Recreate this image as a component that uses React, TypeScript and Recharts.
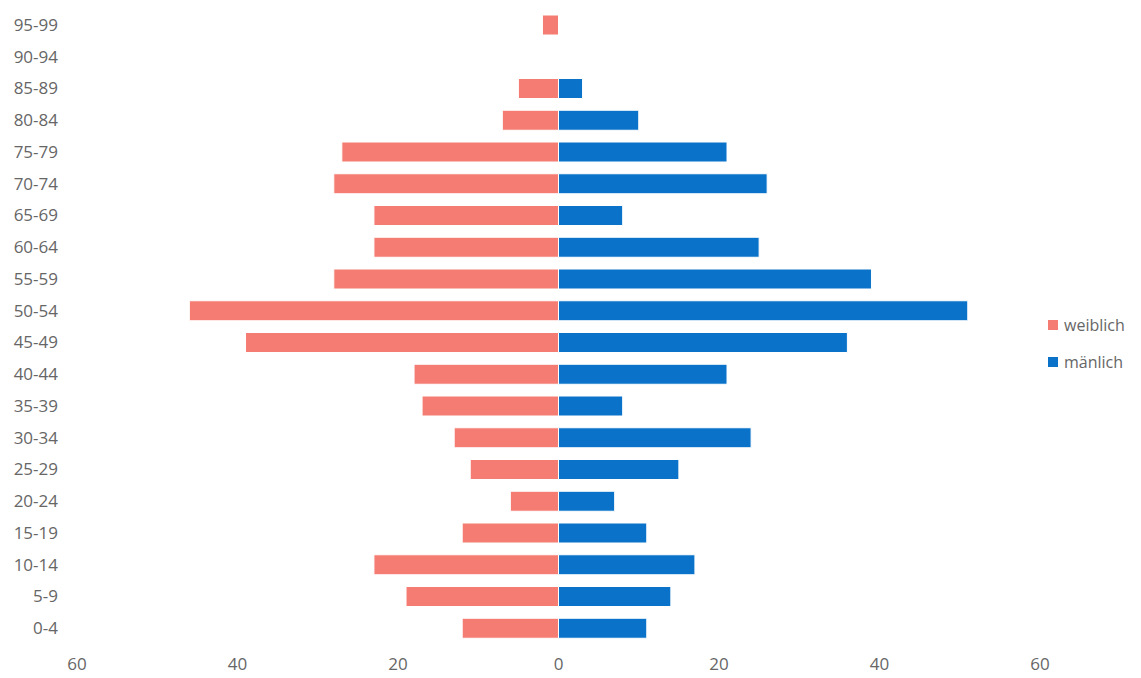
import React from "react";
import { BarChart, Bar, XAxis, YAxis, Legend } from "recharts";

const ageGroups = [
  "95-99", "90-94", "85-89", "80-84", "75-79", "70-74", "65-69", "60-64", "55-59", "50-54",
  "45-49", "40-44", "35-39", "30-34", "25-29", "20-24", "15-19", "10-14", "5-9", "0-4",
];
const weiblich = [2, 0, 5, 7, 27, 28, 23, 23, 28, 46, 39, 18, 17, 13, 11, 6, 12, 23, 19, 12];
const maenlich = [0, 0, 3, 10, 21, 26, 8, 25, 39, 51, 36, 21, 8, 24, 15, 7, 11, 17, 14, 11];
const xTicks = [-60, -40, -20, 0, 20, 40, 60];

const FEMALE = "#F47C73";
const MALE = "#0A73C9";
const TEXT = "#666666";
const FONT = "'Open Sans', sans-serif";

const data = ageGroups.map((age, i) => ({
  age,
  weiblich: -weiblich[i],
  maenlich: maenlich[i],
}));

function LegendBox() {
  const items = [
    { label: "weiblich", color: FEMALE },
    { label: "mänlich", color: MALE },
  ];
  return (
    <div style={{ fontFamily: FONT, fontSize: 16, color: TEXT }}>
      {items.map((it) => (
        <div key={it.label} style={{ display: "flex", alignItems: "center", height: 37 }}>
          <span style={{ width: 10, height: 10, background: it.color, marginRight: 6, display: "inline-block" }} />
          <span>{it.label}</span>
        </div>
      ))}
    </div>
  );
}

export default function App() {
  return (
    <div style={{ position: "absolute", left: 0, top: 0, background: "#fff" }}>
      <BarChart
        width={1141}
        height={678}
        data={data}
        layout="vertical"
        stackOffset="sign"
        margin={{ top: 9, right: 101, bottom: 0, left: 0 }}
        barSize={20}
      >
        <XAxis
          type="number"
          domain={[-60, 60]}
          ticks={xTicks}
          tickFormatter={(v: number) => String(Math.abs(v))}
          axisLine={false}
          tickLine={false}
          tickSize={0}
          tickMargin={14}
          height={34}
          tick={{ fill: TEXT, fontSize: 17, fontFamily: FONT }}
        />
        <YAxis
          type="category"
          dataKey="age"
          width={77}
          axisLine={false}
          tickLine={false}
          tickSize={0}
          tickMargin={19}
          interval={0}
          tick={{ fill: TEXT, fontSize: 17, fontFamily: FONT }}
        />
        <Legend
          layout="vertical"
          align="center"
          verticalAlign="middle"
          content={() => <LegendBox />}
          wrapperStyle={{ left: 1048, top: 306, width: 100, height: 80 }}
        />
        <Bar dataKey="weiblich" stackId="a" fill={FEMALE} stroke="#fff" strokeWidth={1} isAnimationActive={false} />
        <Bar dataKey="maenlich" stackId="a" fill={MALE} stroke="#fff" strokeWidth={1} isAnimationActive={false} />
      </BarChart>
    </div>
  );
}
